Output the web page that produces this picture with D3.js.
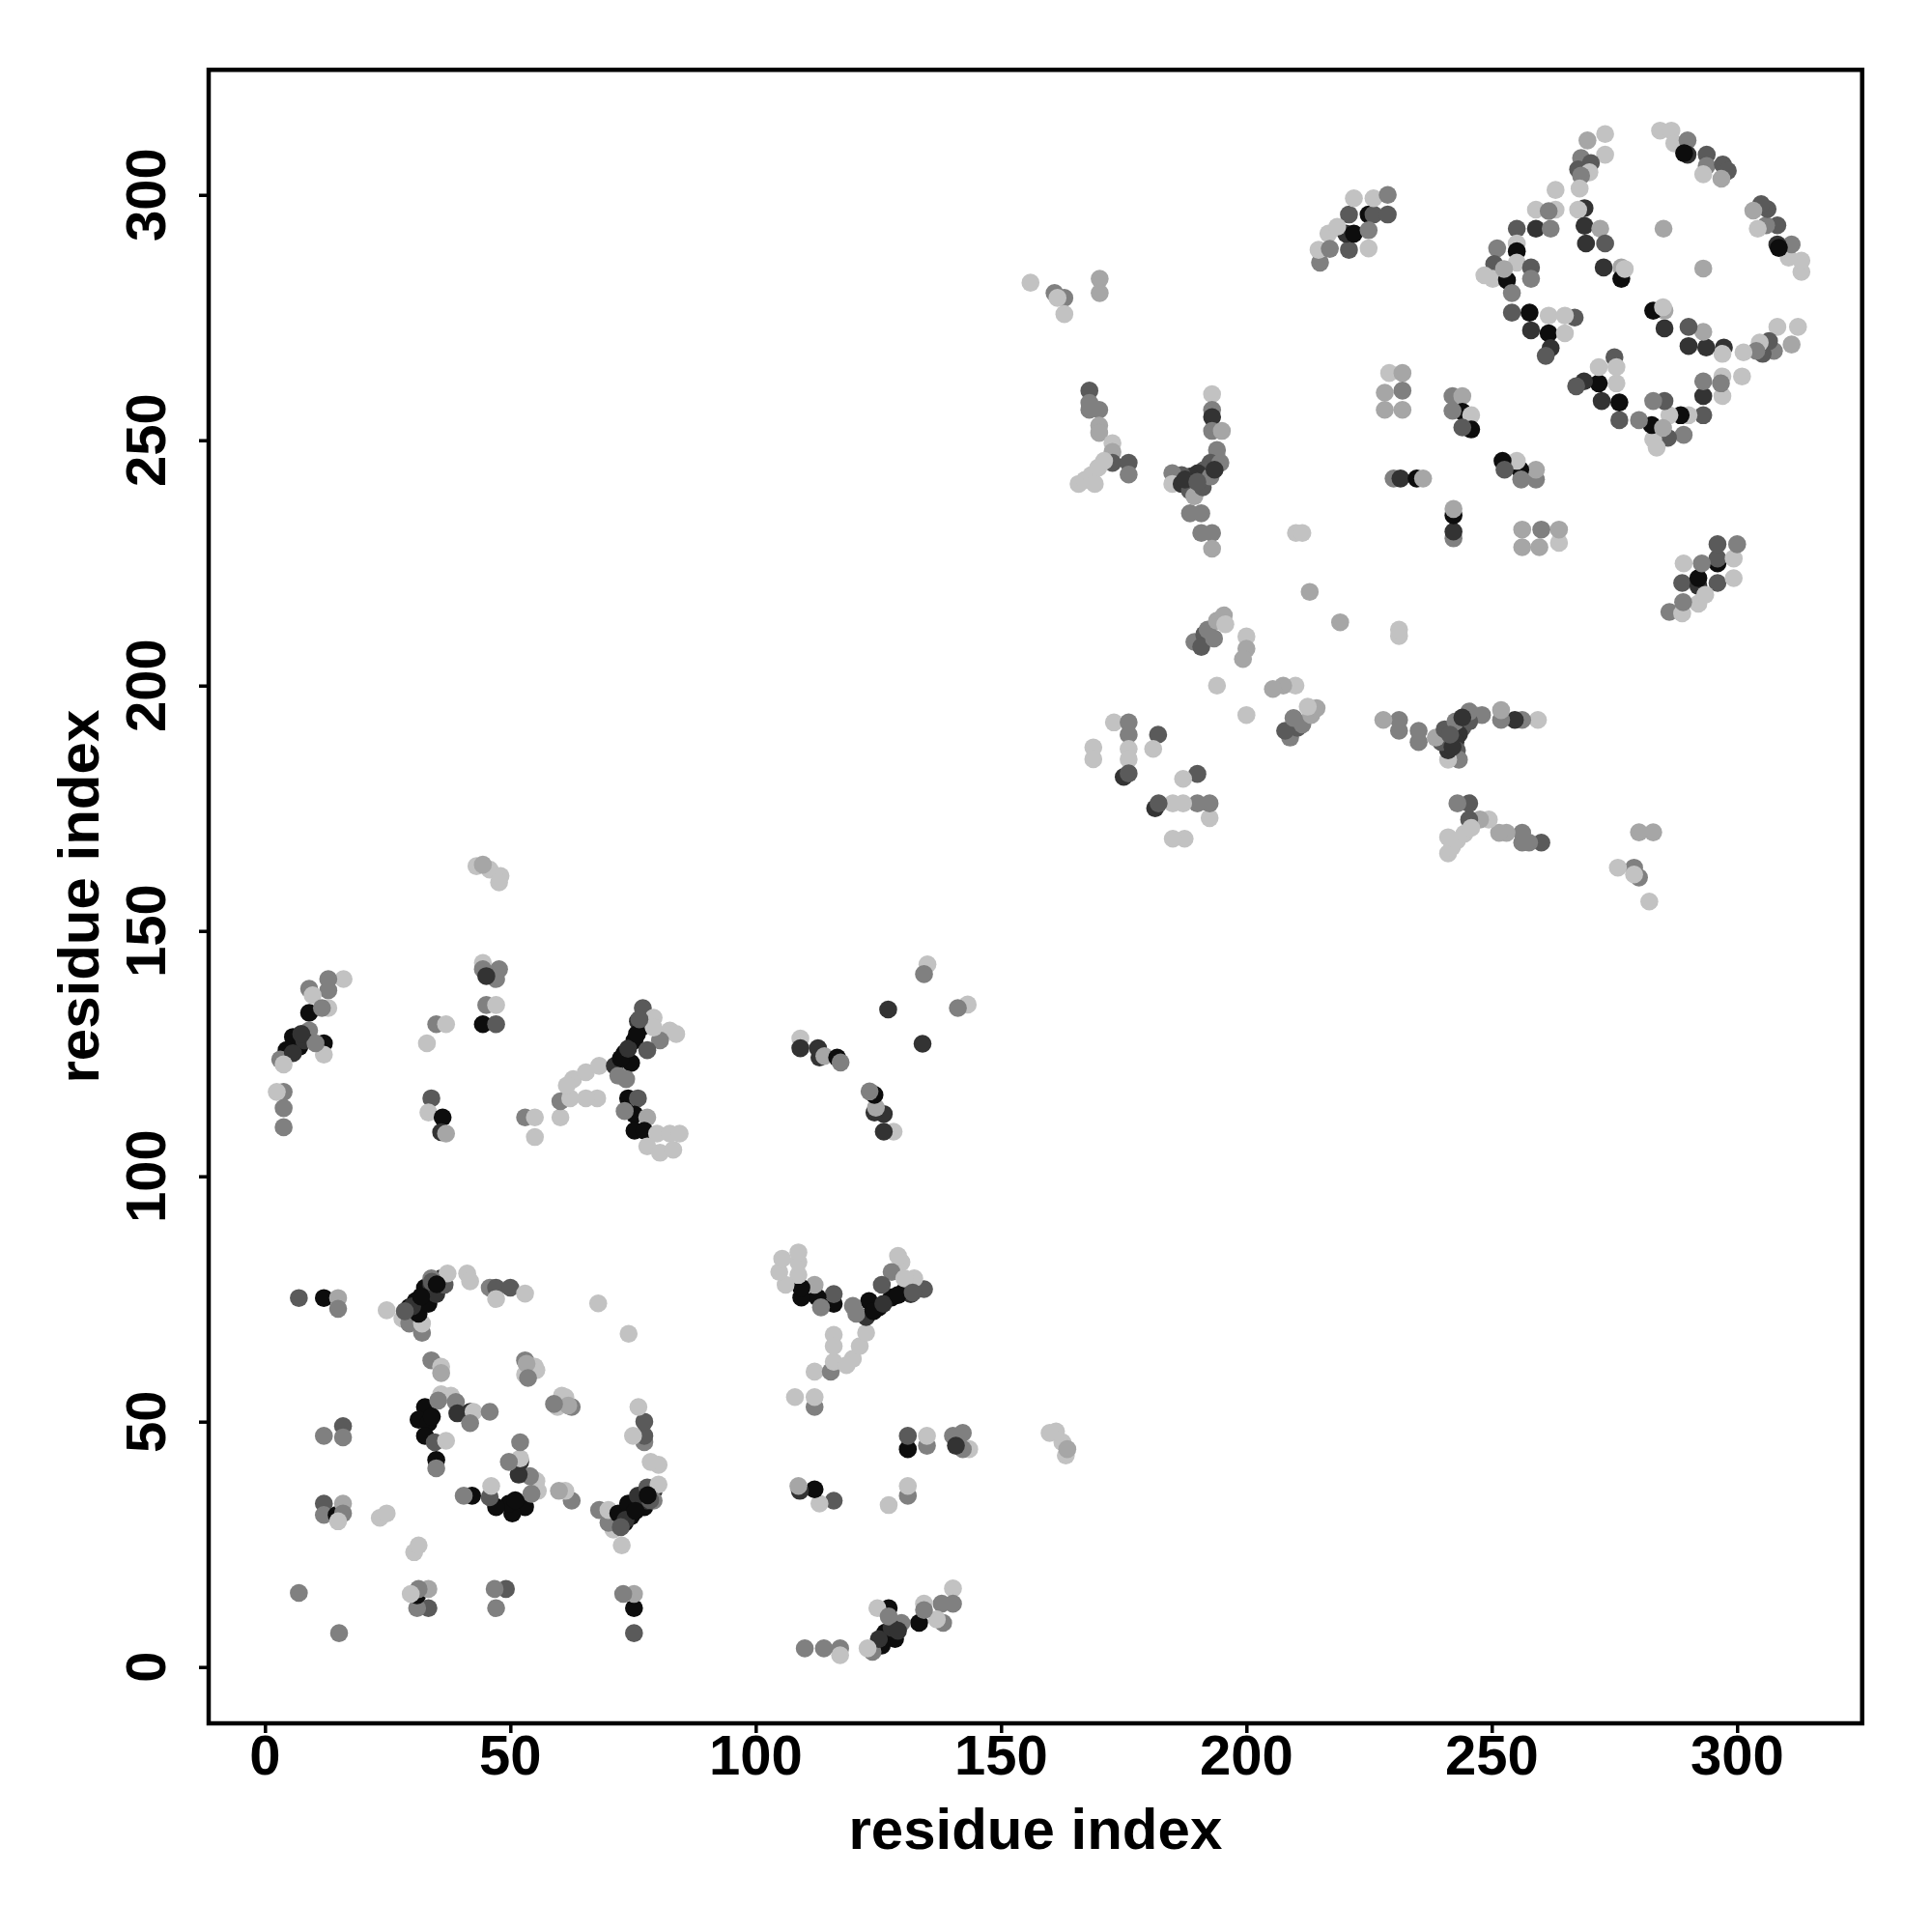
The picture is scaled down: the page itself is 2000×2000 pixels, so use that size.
<!DOCTYPE html>
<html><head><meta charset="utf-8">
<script src="https://cdn.jsdelivr.net/npm/d3@7"></script>
<style>body{margin:0;background:#fff}</style>
</head><body>
<svg id="chart" width="2000" height="2000"></svg>
<script>
// Contact map: each pair (resI[k], resJ[k]) is a contact; the map is symmetric,
// so every pair is drawn at (i, j) and at (j, i). shade: 1 = black ... 6 = light grey.
const resI = [
6.9,12,14.9,14.9,24.8,28,29.4,32,32,29.4,30.7,32.6,33.9,35.9,31.3,33.3,34.9,36.6,37.2,33.9,
41.2,41.8,45.8,47.1,50,53,47.1,67.9,33.9,35.9,35.9,53,54.3,53,55,60.5,61.8,58.9,
32.6,31.3,33.3,32.6,34.6,36.9,34.9,34.9,35.9,37.9,38.9,39.2,41.8,42.5,45.8,41.8,35.3,34,
12,15.9,15.9,12,12,14.6,15.9,15.9,14.9,23.4,24.8,6.9,
16,12.9,9,12.9,9.7,12.9,9,11.6,9,12,12,5.7,7,4.4,3.1,5.7,3.8,8,10.3,7.4,
3.8,2.4,3.8,3.8,33,34.9,36.9,33.9,33.3,36.2,35.9,36.9,
43.1,45.8,48,47.7,44.4,44.4,47.7,44.4,47.1,45.1,45.1,47.1,44.4,47.1,
53,55,55,60.2,60.2,62.2,62.8,65.4,68.1,67.7,65.4,61.5,
71.3,73.3,75.3,76.6,77,74.6,72,73.6,76,79.2,82.5,83.8,80.5,77.9,79.2,
74,76,75.3,73.3,77.9,75.3,77.3,79.9,82.5,84.5,77.9,80.5,83.2,
135,134.3,127,109.1,109.1,112.7,113,114,116.6,117.3,
168,168,168,170,170,170,172.7,172.7,172.7,176,176,165.8,167.1,168.4,169.8,171,169.1,
193,193,193,193,195,194,194,192.7,191.4,190.1,188.5,186.8,184.9,184.9,186.8,188.5,189.4,191.1,192.7,194.7,
188.5,190.8,190.8,193,193,210.1,211.4,212.9,
229.1,231.8,228.2,231.8,228.2,231.8,230,231.4,234.7,236,
189.4,191.4,192.1,194,195.4,190.8,200,200,199.3,193.4,195.7,194,
173,176,176,182,176,181,168.8,168.8,176,175,176,
242,244,244,245.8,245.8,244,242,
156,160.9,162.9,161.5,162.9,170.1,170.1,
215,214.7,216.7,220.9,220.3,221.9,220.9,221.9,224.9,225.9,225.9,228.8,228.8,224.9,224.9,218.5,217,
273.1,269.5,273.1,268.2,270.2,267.6,269.9,268.2,267.9,
268.9,267.6,268.9,272.1,269.2,273.1,272.8,276.4,276.4,277.1,
263,263,259,261.6,255.1,259,262,255.1,255.1,
251.1,250.5,250.2,248.5,253.1,255.1,258,258,254.1,252.5,
254.1,257.7,261.6,266.9,264.9,258,261.6,262,261,264.9,
285,
284.3,286.6,287.2,289.9,289.9,293.8,293.8,297.1,298.1,293.1,296.8,289.2,
30,31.8,34,35,28.5,72.5,74,75.8,76.3,187.5,190,193.5
];
const resJ = [
75.2,75.2,75.2,73,72.7,71,70,68.1,70,73.3,74.6,77.3,77.9,79.2,72,74,76,77.9,80.2,79.2,
80.2,78.6,77.3,77.3,77.3,76.1,75,74.1,62.5,61.2,59.9,62.5,61.2,59.6,61.2,55.3,53.3,53.6,
53,50.4,49.7,47.1,45.8,46.1,42.2,40.5,55.6,55.3,54,51.7,52,52,52,49.7,54.3,51,
47.1,49.1,46.8,33.3,31,31,33.3,31.3,29.7,30.4,31.3,15.1,
140.2,140.2,138.2,137.9,136.9,134.3,133.3,134.3,129.7,127.1,124.8,128.4,126.4,125.7,123.8,125.1,122.8,127.7,127.1,129,
117.2,117.2,113.9,110,127.1,131,131,115.9,113,112,109,108.7,
163.2,162.5,161.2,159.9,163.5,143.5,142.2,142.2,140.2,140.8,134.9,134.9,131,131,
112,112,108,112,115.3,115.9,119.8,121.2,122.5,115.9,115.9,118.5,
122.5,125.1,127.7,130.3,134.3,123.1,120.5,119.8,131.6,132.3,129.7,129,127.7,125.7,130.3,
115.9,115.9,112.6,113.3,112,109.3,109.3,108.7,108.7,108.7,106.1,104.8,105.4,
143.2,141.2,134,128.1,126.1,126.1,124.2,124.5,124.2,123.2,
260.1,257.6,256.2,256.2,253,251.5,249.4,247.6,245.4,245.4,243,241.1,241.9,242.9,244.4,245.8,241.1,
259.4,256.2,254.7,251.9,251.9,246.5,248,245.4,244,243.3,242.6,242.9,243.3,241.1,241.1,239.7,238.6,240.4,242.6,245.4,
235.1,235.1,231.1,231.1,227.9,231.1,231.1,219.1,
263.7,263.7,259.7,260.1,256.2,256.2,242.2,242.2,242.2,242.2,
208.9,210.4,211.4,213.2,214.3,207.9,210,207.5,205.4,209.6,212.5,200,
192.5,192.5,190,190,187.1,187.1,187.4,185,185,181.4,182.1,
259,259,255.8,255.1,252.2,252.6,256,
282.1,280,279,279,275.7,282.9,280,
286.2,288.8,292.1,288.8,292.1,292.1,296,299.3,296,296,299.3,300,296,292.8,289.1,293.5,289,
312.4,311.1,308.2,307.5,306.5,305.2,304.6,303.9,301.3,
297.3,297,293.7,293.1,290.1,290.1,285.2,285.2,282.9,284.9,
301,297,297,296.7,293.1,293.1,293.1,290.1,288.5,
289.1,285.9,282.9,283.6,282.6,286.2,285.2,282.9,280,284.9,
276,276,275.4,275,275.4,272.4,271.8,268.8,267.2,271.8,
293.1,
313.1,313.1,310.5,311.1,308.2,308.2,305.9,306.2,304.9,304.2,303.3,308.5,
73.5,75.5,78.5,78,72.5,124,126,129,132,242,241.5,244
];
const shade = [
3,1,5,4,6,6,4,4,6,1,1,1,2,2,1,1,2,3,6,4,
6,6,4,3,3,6,6,6,4,6,5,4,6,6,6,6,5,4,
1,1,1,1,3,6,1,4,6,6,4,2,2,6,4,4,4,1,
4,3,4,3,4,1,5,4,6,6,6,4,
6,4,4,4,6,6,1,4,4,1,6,1,1,1,4,2,6,2,4,2,
4,6,4,4,6,4,6,3,6,1,2,5,
6,6,6,6,5,6,4,4,4,2,4,6,1,3,
4,6,6,6,4,6,6,6,6,6,6,6,
2,1,1,1,3,1,4,4,2,6,6,6,4,3,6,
1,3,1,4,5,1,1,6,6,6,6,6,6,
6,4,2,6,2,2,2,5,1,4,
3,4,4,4,5,5,6,5,3,3,4,6,6,6,6,6,6,
6,4,2,4,5,5,4,3,3,2,2,3,4,6,2,3,5,3,4,4,
4,4,4,4,5,6,6,5,
6,5,5,4,5,5,4,2,1,5,
4,3,4,5,5,3,6,5,5,4,6,6,
6,4,4,3,6,6,6,6,6,2,3,
4,5,1,6,1,3,4,
6,4,4,6,6,5,5,
4,6,6,3,2,1,3,6,1,3,6,4,3,4,6,6,4,
6,5,6,4,3,3,6,4,6,
2,6,2,5,2,3,2,5,1,6,
6,6,6,4,3,2,4,6,1,
4,3,6,6,1,6,3,4,4,5,
3,1,6,3,6,2,1,2,3,6,
5,
6,6,6,4,2,3,4,3,3,6,5,1,
2,1,3,1,3,1,2,1,3,2,3,2
];
const shadeColors = ["#0d0d0d", "#333333", "#5a5a5a", "#808080", "#a6a6a6", "#c2c2c2"];
const tickValues = [0, 50, 100, 150, 200, 250, 300];
const axisTitle = "residue index";

(function () {
  const svg = d3.select("#chart");
  svg.append("rect").attr("width", 2000).attr("height", 2000).attr("fill", "#fff");

  const pLeft = 216, pRight = 1927.7, pTop = 72.3, pBottom = 1784;
  const dom = [-11.48, 325.48];
  const x = d3.scaleLinear().domain(dom).range([pLeft, pRight]);
  const y = d3.scaleLinear().domain(dom).range([pBottom, pTop]);

  const pts = [];
  const n = Math.min(resI.length, resJ.length, shade.length);
  for (let k = 0; k < n; k++) {
    pts.push({a: resI[k], b: resJ[k], s: shade[k]});
    pts.push({a: resJ[k], b: resI[k], s: shade[k]});
  }

  svg.append("g").selectAll("circle").data(pts).join("circle")
    .attr("cx", d => x(d.a)).attr("cy", d => y(d.b)).attr("r", 9.3)
    .attr("fill", d => shadeColors[d.s - 1]);

  const font = "'Liberation Sans', Arial, Helvetica, sans-serif";

  const xAxis = svg.append("g").attr("transform", `translate(0,${pBottom})`)
    .call(d3.axisBottom(x).tickValues(tickValues).tickSize(10).tickSizeOuter(0).tickFormat(""));
  xAxis.select(".domain").remove();
  xAxis.selectAll("line").attr("stroke", "#000").attr("stroke-width", 3.5);

  const yAxis = svg.append("g").attr("transform", `translate(${pLeft},0)`)
    .call(d3.axisLeft(y).tickValues(tickValues).tickSize(10).tickSizeOuter(0).tickFormat(""));
  yAxis.select(".domain").remove();
  yAxis.selectAll("line").attr("stroke", "#000").attr("stroke-width", 3.5);

  svg.append("g").selectAll("text").data(tickValues).join("text")
    .attr("x", d => x(d)).attr("y", 1837)
    .attr("text-anchor", "middle")
    .style("font-family", font).style("font-weight", "bold").style("font-size", "58px")
    .text(d => d);

  svg.append("g").selectAll("text").data(tickValues).join("text")
    .attr("transform", d => `translate(171,${y(d)}) rotate(-90)`)
    .attr("text-anchor", "middle")
    .style("font-family", font).style("font-weight", "bold").style("font-size", "58px")
    .text(d => d);

  svg.append("rect").attr("x", pLeft).attr("y", pTop)
    .attr("width", pRight - pLeft).attr("height", pBottom - pTop)
    .attr("fill", "none").attr("stroke", "#000").attr("stroke-width", 4.5);

  svg.append("text").attr("x", (pLeft + pRight) / 2).attr("y", 1914)
    .attr("text-anchor", "middle")
    .style("font-family", font).style("font-weight", "bold").style("font-size", "60px")
    .text(axisTitle);
  svg.append("text").attr("transform", `translate(102,${(pTop + pBottom) / 2}) rotate(-90)`)
    .attr("text-anchor", "middle")
    .style("font-family", font).style("font-weight", "bold").style("font-size", "60px")
    .text(axisTitle);
})();
</script>
</body></html>
